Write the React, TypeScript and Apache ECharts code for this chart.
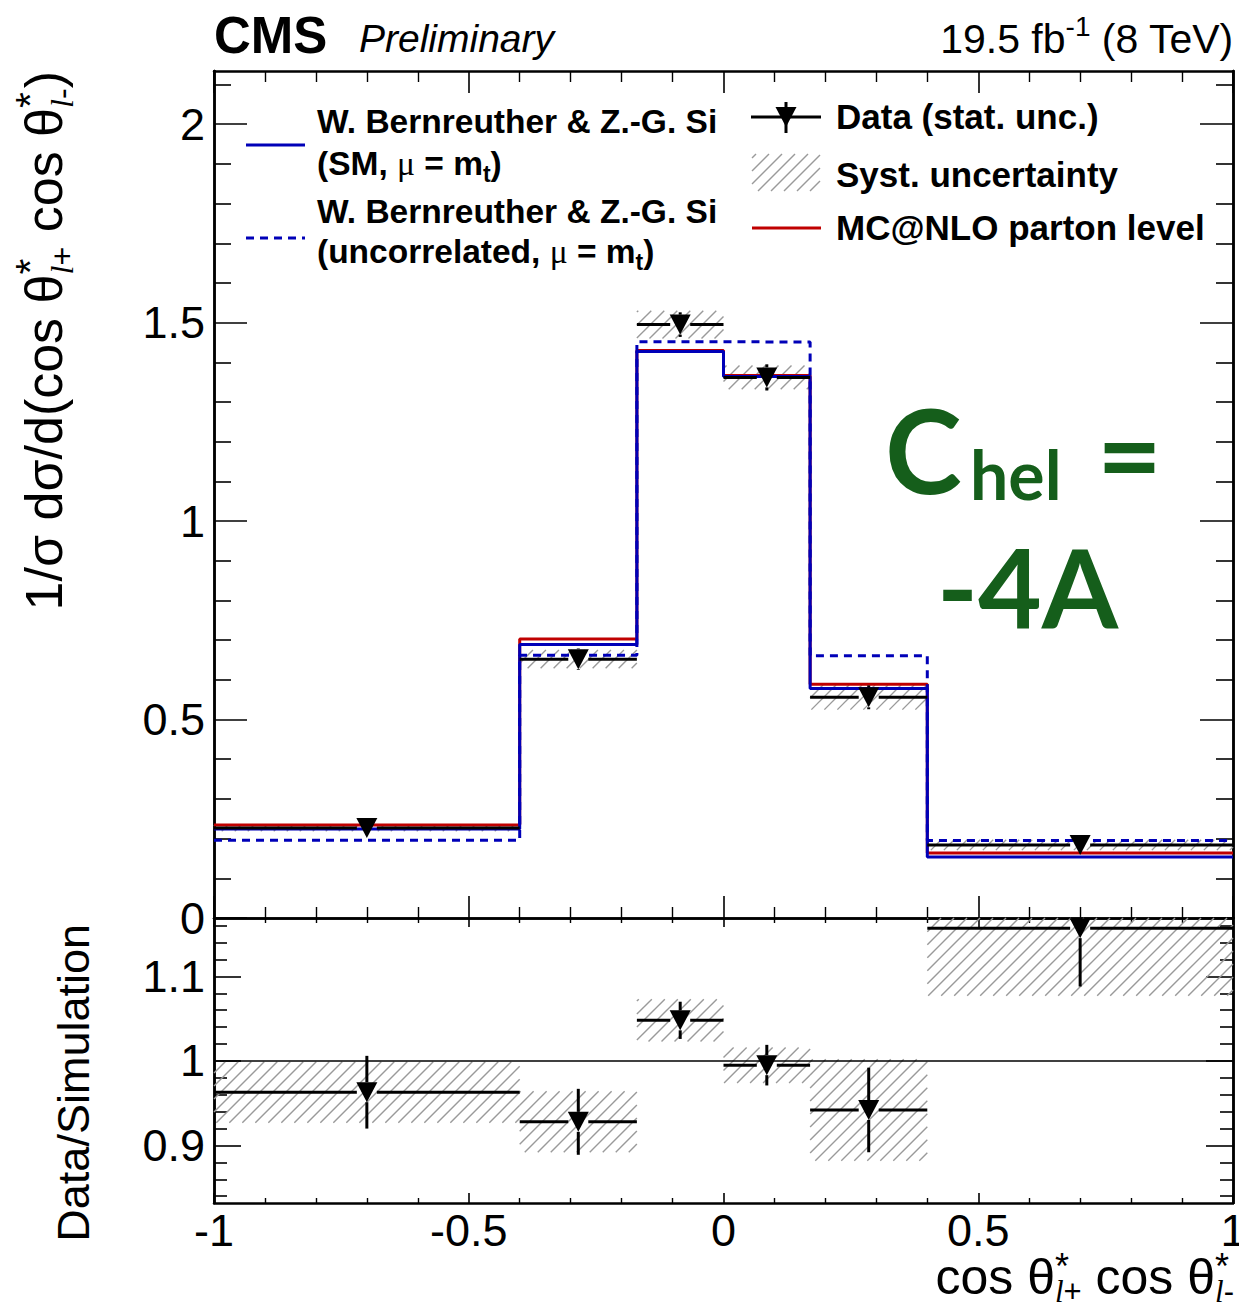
import React, { useEffect, useRef } from 'react';
import * as echarts from 'echarts';

// ---------------- data ----------------
const binEdges = [-1, -0.4, -0.17, 0, 0.17, 0.4, 1];
const binCenters = [-0.7, -0.285, -0.085, 0.085, 0.285, 0.7];
const dataValues = [0.227, 0.652, 1.495, 1.362, 0.556, 0.184];
const dataStatErr = [0.010, 0.027, 0.031, 0.033, 0.030, 0.011];
const dataSystErr = [0.0085, 0.023, 0.035, 0.030, 0.031, 0.013];
const mcnloValues = [0.234, 0.703, 1.430, 1.367, 0.589, 0.164];
const smValues = [0.224, 0.689, 1.427, 1.364, 0.578, 0.154];
const uncorrValues = [0.196, 0.662, 1.452, 1.451, 0.661, 0.195];
const ratioValues = [0.963, 0.928, 1.048, 0.995, 0.942, 1.157];
const ratioStatErr = [0.043, 0.039, 0.022, 0.024, 0.050, 0.069];
const ratioSystErr = [0.036, 0.036, 0.025, 0.021, 0.060, 0.080];

const xMajorTicks = [-1, -0.5, 0, 0.5, 1];
const mainYMajorTicks = [0, 0.5, 1, 1.5, 2];
const mainYMinorTicks = [0.1, 0.2, 0.3, 0.4, 0.6, 0.7, 0.8, 0.9, 1.1, 1.2, 1.3, 1.4, 1.6, 1.7, 1.8, 1.9, 2.1];
const ratioYMajorTicks = [0.9, 1, 1.1];
const ratioYMinorTicks = [0.84, 0.86, 0.88, 0.92, 0.94, 0.96, 0.98, 1.02, 1.04, 1.06, 1.08, 1.12, 1.14, 1.16];
const mainYRange = [0, 2.134];
const ratioYRange = [0.832, 1.169];

// ---------------- style ----------------
const FONT = "'Liberation Sans', Arial, Helvetica, sans-serif";
const SERIF = "'Liberation Serif', 'Times New Roman', serif";
const GFONT = "Lato, 'Open Sans', sans-serif";
const BLUE = '#0000b8';
const RED = '#c00000';
const GREEN = '#155e1b';
const HATCH = '#9a9a9a';
const HATCH_STEP = 13;

const GRID1 = { left: 214, top: 71, width: 1019, height: 847 };
const GRID2 = { left: 214, top: 918, width: 1019, height: 285 };

// ---------------- helpers ----------------
let measureCtx: any = null;
function mw(p: any): number {
  const fam = p.fam || FONT;
  if (!measureCtx) {
    try { measureCtx = document.createElement('canvas').getContext('2d'); } catch (e) { measureCtx = null; }
  }
  if (!measureCtx) return p.t.length * p.size * 0.55;
  measureCtx.font = `${p.st || 'normal'} ${p.w || 'normal'} ${p.size}px ${fam}`;
  return measureCtx.measureText(p.t).width;
}

function layoutItems(items: any[]) {
  const out: any[] = [];
  let cur = 0;
  for (const it of items) {
    if (it.sup) {
      let a = cur;
      for (const p of it.sup) { out.push({ p, x: a }); a += mw(p); }
      let b = cur;
      for (const p of it.sub) { out.push({ p, x: b }); b += mw(p); }
      cur = Math.max(a, b);
    } else {
      out.push({ p: it, x: cur });
      cur += mw(it);
    }
  }
  return { out, width: cur };
}

function pieceStyle(p: any, fill: string) {
  return {
    text: p.t,
    fontSize: p.size,
    fontFamily: p.fam || FONT,
    fontWeight: p.w || 'normal',
    fontStyle: p.st || 'normal',
    fill,
    align: 'left',
    verticalAlign: 'middle',
  };
}

function textEls(items: any[], x0: number, baseline: number, anchor: string, fill = '#000') {
  const { out, width } = layoutItems(items);
  const start = anchor === 'right' ? x0 - width : x0;
  return out.map(({ p, x }) => ({
    type: 'text',
    x: start + x,
    y: baseline + (p.dy || 0) - 0.347 * p.size,
    silent: true,
    style: pieceStyle(p, fill),
  }));
}

function rotatedTitle(items: any[], baseX: number, endY: number, fill = '#000') {
  const { out, width } = layoutItems(items);
  return {
    type: 'group',
    x: baseX,
    y: endY,
    rotation: Math.PI / 2,
    silent: true,
    children: out.map(({ p, x }) => ({
      type: 'text',
      x: -width + x,
      y: (p.dy || 0) - 0.347 * p.size,
      style: pieceStyle(p, fill),
    })),
  };
}

function hatchLines(left: number, top: number, right: number, bottom: number, s: number) {
  const res: any[] = [];
  const start = Math.ceil((left + top) / s) * s;
  for (let c = start; c <= right + bottom; c += s) {
    const xa = Math.max(left, c - bottom);
    const xb = Math.min(right, c - top);
    if (xb - xa > 0.5) res.push({ x1: xa, y1: c - xa, x2: xb, y2: c - xb });
  }
  return res;
}

function hatchRender(params: any, api: any) {
  const lo = api.value(0), hi = api.value(1), y0 = api.value(2), y1 = api.value(3);
  const cs = params.coordSys;
  const a = api.coord([lo, y1]);
  const b = api.coord([hi, y0]);
  const top = Math.max(a[1], cs.y);
  const bottom = Math.min(b[1], cs.y + cs.height);
  const lines = hatchLines(a[0], top, b[0], bottom, HATCH_STEP);
  return {
    type: 'group',
    children: lines.map((l) => ({ type: 'line', shape: l, style: { stroke: HATCH, lineWidth: 1.4 } })),
  };
}

function errRender(params: any, api: any) {
  const x = api.value(0), y = api.value(1), e = api.value(2), lo = api.value(3), hi = api.value(4);
  const cs = params.coordSys;
  const c = api.coord([x, y]);
  const l = api.coord([lo, y])[0];
  const r = api.coord([hi, y])[0];
  let t = api.coord([x, y + e])[1];
  let b = api.coord([x, y - e])[1];
  t = Math.max(t, cs.y);
  b = Math.min(b, cs.y + cs.height);
  const gx = 10, gy = 10;
  const segs: number[][] = [];
  if (c[0] - gx > l) segs.push([l, c[1], c[0] - gx, c[1]]);
  if (r > c[0] + gx) segs.push([c[0] + gx, c[1], r, c[1]]);
  if (c[1] - gy > t) segs.push([c[0], t, c[0], c[1] - gy]);
  if (b > c[1] + gy) segs.push([c[0], c[1] + gy, c[0], b]);
  return {
    type: 'group',
    children: segs.map((s) => ({
      type: 'line',
      shape: { x1: s[0], y1: s[1], x2: s[2], y2: s[3] },
      style: { stroke: '#000', lineWidth: 3 },
    })),
  };
}

function stepPoints(vals: number[]) {
  return binEdges.map((e, i) => [e, vals[Math.min(i, vals.length - 1)]]);
}

const axisLineStyle = { color: '#000', width: 2.5 };

function xAxisDef(gridIndex: number, position: string, major: number, minor: number, showLabel: boolean) {
  return {
    type: 'value',
    gridIndex,
    position,
    min: -1,
    max: 1,
    interval: 0.5,
    axisLine: { show: true, onZero: false, lineStyle: axisLineStyle },
    axisTick: { show: true, inside: true, length: major, lineStyle: { color: '#000', width: 1.6 } },
    minorTick: { show: true, splitNumber: 5, length: minor, lineStyle: { color: '#000', width: 1.4 } },
    splitLine: { show: false },
    minorSplitLine: { show: false },
    axisLabel: {
      show: showLabel,
      margin: 5,
      fontSize: 45,
      color: '#000',
      fontFamily: FONT,
      customValues: xMajorTicks,
      formatter: (v: number) => String(Math.round(v * 100) / 100),
    },
  };
}

function yAxisDef(gridIndex: number, position: string, range: number[], ticks: number[], len: number, labels: number[] | null) {
  return {
    type: 'value',
    gridIndex,
    position,
    offset: 0,
    min: range[0],
    max: range[1],
    axisLine: { show: true, onZero: false, lineStyle: axisLineStyle },
    axisTick: { show: true, inside: true, length: len, customValues: ticks, lineStyle: { color: '#000', width: 1.6 } },
    minorTick: { show: false },
    splitLine: { show: false },
    axisLabel: labels
      ? {
          show: true,
          customValues: labels,
          margin: 9,
          fontSize: 45,
          color: '#000',
          fontFamily: FONT,
          formatter: (v: number) => String(Math.round(v * 100) / 100),
        }
      : { show: false },
  };
}

function buildOption() {
  const mainHatch = binCenters.map((_, i) => [binEdges[i], binEdges[i + 1], dataValues[i] - dataSystErr[i], dataValues[i] + dataSystErr[i]]);
  const mainErr = binCenters.map((c, i) => [c, dataValues[i], dataStatErr[i], binEdges[i], binEdges[i + 1]]);
  const mainPts = binCenters.map((c, i) => [c, dataValues[i]]);
  const ratioHatch = binCenters.map((_, i) => [binEdges[i], binEdges[i + 1], ratioValues[i] - ratioSystErr[i], ratioValues[i] + ratioSystErr[i]]);
  const ratioErr = binCenters.map((c, i) => [c, ratioValues[i], ratioStatErr[i], binEdges[i], binEdges[i + 1]]);
  const ratioPts = binCenters.map((c, i) => [c, ratioValues[i]]);

  const lineBase = { type: 'line', step: 'end', showSymbol: false, symbol: 'none', silent: true, xAxisIndex: 0, yAxisIndex: 0 };

  const series: any[] = [
    { type: 'custom', xAxisIndex: 0, yAxisIndex: 0, renderItem: hatchRender, data: mainHatch, silent: true, z: 2 },
    { ...lineBase, data: stepPoints(mcnloValues), lineStyle: { color: RED, width: 3 }, z: 3 },
    { ...lineBase, data: stepPoints(smValues), lineStyle: { color: BLUE, width: 3 }, z: 4 },
    { ...lineBase, data: stepPoints(uncorrValues), lineStyle: { color: BLUE, width: 3, type: [8, 6] }, z: 5 },
    { type: 'custom', xAxisIndex: 0, yAxisIndex: 0, renderItem: errRender, data: mainErr, silent: true, z: 6 },
    {
      type: 'scatter', xAxisIndex: 0, yAxisIndex: 0, data: mainPts, symbol: 'triangle', symbolRotate: 180,
      symbolSize: [21, 20], itemStyle: { color: '#000', opacity: 1 }, silent: true, z: 7,
    },
    { type: 'custom', xAxisIndex: 2, yAxisIndex: 4, renderItem: hatchRender, data: ratioHatch, silent: true, z: 2 },
    {
      type: 'line', xAxisIndex: 2, yAxisIndex: 4, data: [[-1, 1], [1, 1]], showSymbol: false, symbol: 'none',
      lineStyle: { color: '#000', width: 1.5 }, silent: true, z: 3,
    },
    { type: 'custom', xAxisIndex: 2, yAxisIndex: 4, renderItem: errRender, data: ratioErr, silent: true, z: 6 },
    {
      type: 'scatter', xAxisIndex: 2, yAxisIndex: 4, data: ratioPts, symbol: 'triangle', symbolRotate: 180,
      symbolSize: [21, 20], itemStyle: { color: '#000', opacity: 1 }, silent: true, z: 7,
    },
  ];

  // ---- graphic: header, legend, titles, annotation ----
  const B = 'bold';
  const LS = 33.5;
  const legendLeft = [
    ...textEls([{ t: 'W. Bernreuther & Z.-G. Si', size: LS, w: B }], 317, 133, 'left'),
    ...textEls([
      { t: '(SM, ', size: LS, w: B },
      { t: 'μ', size: LS, fam: SERIF },
      { t: ' = m', size: LS, w: B },
      { t: 't', size: 23, w: B, dy: 7 },
      { t: ')', size: LS, w: B },
    ], 317, 175, 'left'),
    ...textEls([{ t: 'W. Bernreuther & Z.-G. Si', size: LS, w: B }], 317, 223, 'left'),
    ...textEls([
      { t: '(uncorrelated, ', size: LS, w: B },
      { t: 'μ', size: LS, fam: SERIF },
      { t: ' = m', size: LS, w: B },
      { t: 't', size: 23, w: B, dy: 7 },
      { t: ')', size: LS, w: B },
    ], 317, 263, 'left'),
    { type: 'line', silent: true, shape: { x1: 246, y1: 145, x2: 305, y2: 145 }, style: { stroke: BLUE, lineWidth: 3 } },
    { type: 'line', silent: true, shape: { x1: 246, y1: 238, x2: 305, y2: 238 }, style: { stroke: BLUE, lineWidth: 3, lineDash: [8, 6] } },
  ];

  const legendRight = [
    { type: 'line', silent: true, shape: { x1: 751, y1: 117, x2: 821, y2: 117 }, style: { stroke: '#000', lineWidth: 3 } },
    { type: 'line', silent: true, shape: { x1: 786, y1: 102, x2: 786, y2: 133 }, style: { stroke: '#000', lineWidth: 3 } },
    { type: 'polygon', silent: true, shape: { points: [[775.5, 107], [796.5, 107], [786, 127]] }, style: { fill: '#000' } },
    ...hatchLines(752, 154, 820, 191, HATCH_STEP).map((l) => ({
      type: 'line', silent: true, shape: l, style: { stroke: HATCH, lineWidth: 1.4 },
    })),
    { type: 'line', silent: true, shape: { x1: 752, y1: 228, x2: 821, y2: 228 }, style: { stroke: RED, lineWidth: 3 } },
    ...textEls([{ t: 'Data (stat. unc.)', size: 35, w: B }], 836, 129, 'left'),
    ...textEls([{ t: 'Syst. uncertainty', size: 35, w: B }], 836, 187, 'left'),
    ...textEls([{ t: 'MC@NLO parton level', size: 35, w: B }], 836, 240, 'left'),
  ];

  const header = [
    ...textEls([{ t: 'CMS', size: 51, w: B }], 214, 53, 'left'),
    ...textEls([{ t: 'Preliminary', size: 39, st: 'italic' }], 359, 52, 'left'),
    ...textEls([
      { t: '19.5 fb', size: 41 },
      { t: '-1', size: 28, dy: -17 },
      { t: ' (8 TeV)', size: 41 },
    ], 1234, 53, 'right'),
  ];

  const supsub = (sign: string, big: number, supScale: number, supDy: number, subDy: number) => ({
    sup: [{ t: '*', size: big * supScale, dy: -big * supDy }],
    sub: [
      { t: 'l', size: big * 0.62, dy: big * subDy, fam: SERIF, st: 'italic' },
      { t: sign, size: big * 0.62, dy: big * subDy },
    ],
  });

  const xTitle = textEls([
    { t: 'cos θ', size: 50 },
    supsub('+', 50, 0.72, 0.3, 0.17),
    { t: ' cos θ', size: 50 },
    supsub('-', 50, 0.72, 0.3, 0.17),
  ], 1234, 1294, 'right');

  const yTitle = rotatedTitle([
    { t: '1/σ dσ/d(cos θ', size: 52 },
    supsub('+', 52, 0.78, 0.34, 0.22),
    { t: ' cos θ', size: 52 },
    supsub('-', 52, 0.78, 0.34, 0.22),
    { t: ')', size: 52 },
  ], 62, 71);

  const ratioTitle = rotatedTitle([{ t: 'Data/Simulation', size: 45 }], 89, 924);

  const annotation = [
    ...textEls([{ t: 'C', size: 116, w: B, fam: GFONT }], 885, 490, 'left', GREEN),
    ...textEls([{ t: 'hel', size: 68, w: B, fam: GFONT }], 970, 497, 'left', GREEN),
    ...textEls([{ t: '=', size: 112, w: B, fam: GFONT }], 1097, 490, 'left', GREEN),
    ...textEls([{ t: '-4A', size: 110, w: B, fam: GFONT }], 937, 623, 'left', GREEN),
  ];

  return {
    animation: false,
    backgroundColor: '#ffffff',
    grid: [
      { ...GRID1, containLabel: false, outerBoundsMode: 'none', show: false },
      { ...GRID2, containLabel: false, outerBoundsMode: 'none', show: false },
    ],
    xAxis: [
      xAxisDef(0, 'bottom', 22, 11, false),
      xAxisDef(0, 'top', 22, 11, false),
      xAxisDef(1, 'bottom', 10, 5, true),
      xAxisDef(1, 'top', 9, 5, false),
    ],
    yAxis: [
      yAxisDef(0, 'left', mainYRange, mainYMajorTicks, 33, mainYMajorTicks),
      yAxisDef(0, 'left', mainYRange, mainYMinorTicks, 17, null),
      yAxisDef(0, 'right', mainYRange, mainYMajorTicks, 33, null),
      yAxisDef(0, 'right', mainYRange, mainYMinorTicks, 17, null),
      yAxisDef(1, 'left', ratioYRange, ratioYMajorTicks, 27, ratioYMajorTicks),
      yAxisDef(1, 'left', ratioYRange, ratioYMinorTicks, 13, null),
      yAxisDef(1, 'right', ratioYRange, ratioYMajorTicks, 27, null),
      yAxisDef(1, 'right', ratioYRange, ratioYMinorTicks, 13, null),
    ],
    series,
    graphic: [
      ...header,
      ...legendLeft,
      ...legendRight,
      ...xTitle,
      yTitle,
      ratioTitle,
      ...annotation,
    ],
  };
}

export default function App() {
  const ref = useRef<HTMLDivElement>(null);
  useEffect(() => {
    if (!ref.current) return;
    const chart = echarts.init(ref.current, null, { renderer: 'svg' });
    chart.setOption(buildOption() as any);
    return () => chart.dispose();
  }, []);
  return (
    <div
      ref={ref}
      style={{ position: 'absolute', left: 0, top: 0, width: 1239, height: 1309, background: '#fff' }}
    />
  );
}
